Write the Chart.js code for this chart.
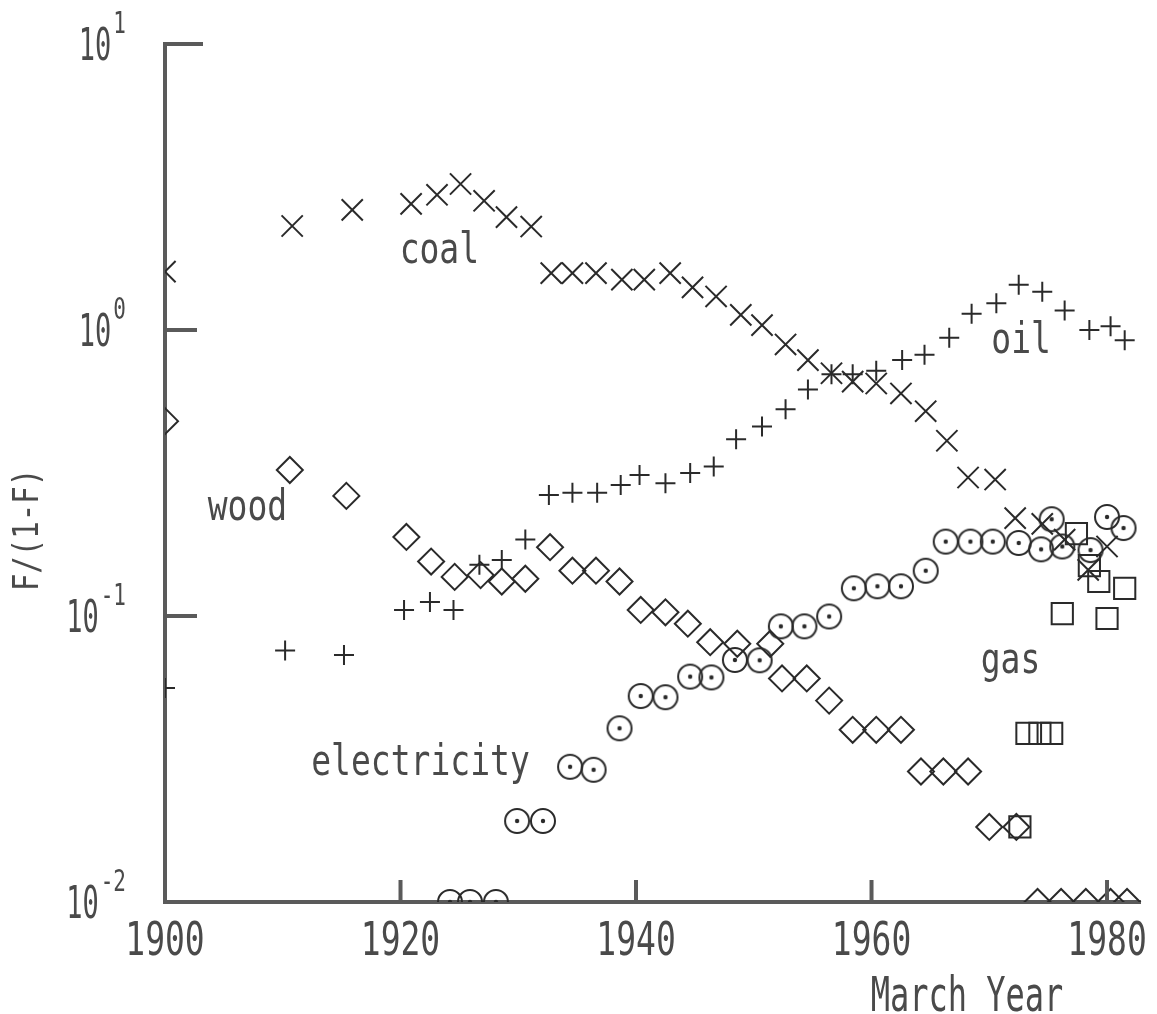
<!DOCTYPE html>
<html>
<head>
<meta charset="utf-8">
<script src="https://cdn.jsdelivr.net/npm/chart.js@4.4.1/dist/chart.umd.min.js"></script>
<style>
  html, body { margin: 0; padding: 0; background: #fff; }
</style>
</head>
<body>
<canvas id="myChart" width="1157" height="1014"></canvas>
<script>
"use strict";

// values (F/(1-F) of each fuel, log scale)
const coalYears = [1900, 1910.8, 1915.9, 1920.9, 1923.1, 1925.1, 1927.1, 1929.0, 1931.1, 1932.8, 1934.6, 1936.6, 1938.8, 1940.7, 1942.9, 1944.8, 1946.8, 1948.9, 1950.7, 1952.7, 1954.6, 1956.6, 1958.4, 1960.4, 1962.5, 1964.6, 1966.4, 1968.2, 1970.5, 1972.2, 1974.5, 1976.4, 1978.4, 1980.0];
const coalValues = [1.60, 2.31, 2.63, 2.76, 2.97, 3.24, 2.83, 2.48, 2.30, 1.58, 1.58, 1.58, 1.50, 1.50, 1.58, 1.41, 1.31, 1.13, 1.04, 0.89, 0.785, 0.706, 0.66, 0.65, 0.60, 0.52, 0.41, 0.305, 0.30, 0.22, 0.21, 0.185, 0.145, 0.175];

const oilYears = [1900, 1910.2, 1915.2, 1920.3, 1922.5, 1924.5, 1926.7, 1928.6, 1930.6, 1932.6, 1934.6, 1936.7, 1938.7, 1940.3, 1942.5, 1944.6, 1946.6, 1948.5, 1950.7, 1952.7, 1954.6, 1956.6, 1958.4, 1960.4, 1962.6, 1964.5, 1966.6, 1968.5, 1970.6, 1972.5, 1974.5, 1976.4, 1978.5, 1980.3, 1981.5];
const oilValues = [0.056, 0.0757, 0.073, 0.105, 0.112, 0.105, 0.151, 0.157, 0.185, 0.265, 0.27, 0.27, 0.287, 0.311, 0.291, 0.316, 0.333, 0.415, 0.46, 0.528, 0.62, 0.70, 0.70, 0.72, 0.785, 0.82, 0.94, 1.14, 1.24, 1.44, 1.36, 1.17, 1.00, 1.03, 0.92];

const woodYears = [1900, 1910.6, 1915.4, 1920.5, 1922.6, 1924.6, 1926.8, 1928.6, 1930.6, 1932.7, 1934.6, 1936.6, 1938.6, 1940.4, 1942.5, 1944.4, 1946.3, 1948.6, 1951.4, 1952.4, 1954.5, 1956.4, 1958.4, 1960.4, 1962.5, 1964.2, 1966.1, 1968.2, 1970.0, 1972.3, 1974.1, 1976.1, 1978.2, 1980.3, 1981.7];
const woodValues = [0.48, 0.324, 0.263, 0.189, 0.155, 0.137, 0.139, 0.132, 0.135, 0.174, 0.144, 0.144, 0.132, 0.105, 0.103, 0.094, 0.081, 0.080, 0.080, 0.0605, 0.0605, 0.0506, 0.040, 0.040, 0.040, 0.0286, 0.0286, 0.0286, 0.0183, 0.0183, 0.010, 0.010, 0.010, 0.010, 0.010];

const elecYears = [1924.2, 1925.9, 1928.1, 1929.9, 1932.1, 1934.4, 1936.4, 1938.6, 1940.4, 1942.5, 1944.6, 1946.4, 1948.4, 1950.5, 1952.3, 1954.3, 1956.4, 1958.5, 1960.5, 1962.5, 1964.6, 1966.3, 1968.4, 1970.3, 1972.5, 1974.4, 1975.3, 1976.2, 1978.6, 1980.0, 1981.4];
const elecValues = [0.010, 0.010, 0.010, 0.0192, 0.0192, 0.0297, 0.029, 0.0405, 0.0525, 0.052, 0.0614, 0.061, 0.0702, 0.070, 0.092, 0.092, 0.0996, 0.125, 0.127, 0.127, 0.144, 0.182, 0.182, 0.182, 0.180, 0.171, 0.218, 0.175, 0.170, 0.222, 0.203];

const gasYears = [1972.6, 1973.2, 1974.3, 1975.3, 1976.2, 1977.4, 1978.5, 1979.3, 1980.0, 1981.5];
const gasValues = [0.0183, 0.0389, 0.0389, 0.0389, 0.102, 0.194, 0.150, 0.132, 0.098, 0.125];

const xTickValues = [1900, 1920, 1940, 1960, 1980];
const xTickLabels = ["1900", "1920", "1940", "1960", "1980"];
const yTickValues = [0.01, 0.1, 1, 10];
const yTickExponents = ["-2", "-1", "0", "1"];

const seriesNames = ["coal", "oil", "wood", "electricity", "gas"];
// where each name sits, in data units (centre x, baseline y)
const nameAnchors = [[1923.3, 1.71], [1972.7, 0.831], [1907.0, 0.217], [1921.7, 0.0278], [1971.8, 0.0632]];

const ink = "#2a2a2a";
const textInk = "#4a4a4a";
const axisInk = "#5a5a5a";
const plotFont = '"DejaVu Sans Mono", "Liberation Mono", monospace';

function pairUp(xs, ys) {
  return xs.map((x, i) => ({ x: x, y: ys[i] }));
}

// circle with a dot in the middle, used for electricity
function ringDot(r) {
  const c = document.createElement("canvas");
  const s = 2 * r + 4;
  c.width = s;
  c.height = s;
  const g = c.getContext("2d");
  g.strokeStyle = ink;
  g.lineWidth = 2;
  g.beginPath();
  g.arc(s / 2, s / 2, r, 0, Math.PI * 2);
  g.stroke();
  g.fillStyle = ink;
  g.beginPath();
  g.arc(s / 2, s / 2, 2.2, 0, Math.PI * 2);
  g.fill();
  return c;
}

// tall narrow lettering like the plotter font of the original
function plotText(ctx, str, x, y, size, stretch, align) {
  ctx.save();
  ctx.translate(x, y);
  ctx.scale(1, stretch);
  ctx.font = size + "px " + plotFont;
  ctx.textAlign = align;
  ctx.textBaseline = "alphabetic";
  ctx.fillText(str, 0, 0);
  ctx.restore();
}

// markers on the frame are cut by it, as in the original
const frameClip = {
  id: "frameClip",
  beforeDatasetsDraw(chart) {
    const a = chart.chartArea;
    const top = a.top - 20;
    chart.ctx.save();
    chart.ctx.beginPath();
    chart.ctx.rect(a.left, top, a.right - a.left + 20, a.bottom - top);
    chart.ctx.clip();
  },
  afterDatasetsDraw(chart) {
    chart.ctx.restore();
  },
};

const decor = {
  id: "decor",
  afterDraw(chart) {
    const ctx = chart.ctx;
    const a = chart.chartArea;
    const xs = chart.scales.x;
    const ys = chart.scales.y;
    ctx.save();

    // inward tick marks
    ctx.strokeStyle = axisInk;
    ctx.lineWidth = 4;
    yTickValues.forEach((v) => {
      if (v === 0.01) return;
      const py = ys.getPixelForValue(v);
      ctx.beginPath();
      ctx.moveTo(a.left, py);
      ctx.lineTo(a.left + (v === 10 ? 38 : 32), py);
      ctx.stroke();
    });
    xTickValues.forEach((v) => {
      if (v === 1900) return;
      const px = xs.getPixelForValue(v);
      ctx.beginPath();
      ctx.moveTo(px, a.bottom);
      ctx.lineTo(px, a.bottom - 22);
      ctx.stroke();
    });

    ctx.fillStyle = textInk;

    // x tick labels
    xTickValues.forEach((v, i) => {
      plotText(ctx, xTickLabels[i], xs.getPixelForValue(v), 955, 33, 1.42, "center");
    });

    // y tick labels: 10 with a raised exponent
    yTickValues.forEach((v, i) => {
      const py = ys.getPixelForValue(v);
      const right = 126;
      ctx.font = "21px " + plotFont;
      const ew = ctx.measureText(yTickExponents[i]).width;
      plotText(ctx, yTickExponents[i], right, py - 11, 21, 1.45, "right");
      plotText(ctx, "10", right - ew - 2, py + 16, 27, 1.65, "right");
    });

    // axis titles
    plotText(ctx, "March Year", 967, 1011, 32, 1.5, "center");
    ctx.save();
    ctx.translate(38, 530);
    ctx.rotate(-Math.PI / 2);
    plotText(ctx, "F/(1-F)", 0, 0, 29, 1.2, "center");
    ctx.restore();

    // series names
    seriesNames.forEach((name, i) => {
      const px = xs.getPixelForValue(nameAnchors[i][0]);
      const py = ys.getPixelForValue(nameAnchors[i][1]);
      plotText(ctx, name, px, py, 33, 1.28, "center");
    });

    ctx.restore();
  },
};

const hollow = "rgba(0,0,0,0)";

function series(label, xs, ys, style, radius) {
  return {
    label: label,
    data: pairUp(xs, ys),
    showLine: false,
    pointStyle: style,
    pointRadius: radius,
    pointBorderWidth: 2,
    pointBorderColor: ink,
    pointBackgroundColor: hollow,
    clip: false,
  };
}

const myChart = new Chart("myChart", {
  type: "scatter",
  data: {
    datasets: [
      series("coal", coalYears, coalValues, "crossRot", 15),
      series("oil", oilYears, oilValues, "cross", 10),
      series("wood", woodYears, woodValues, "rectRot", 13),
      series("electricity", elecYears, elecValues, ringDot(12), 12),
      series("gas", gasYears, gasValues, "rect", 15),
    ],
  },
  options: {
    responsive: false,
    animation: false,
    events: [],
    layout: { padding: { top: 44, right: 12, left: 0, bottom: 0 } },
    plugins: {
      legend: { display: false },
      tooltip: { enabled: false },
    },
    scales: {
      x: {
        type: "linear",
        min: 1900,
        max: 1982.8,
        grid: { display: false },
        ticks: { display: false },
        border: { display: true, width: 4, color: axisInk },
        afterFit(scale) {
          scale.height = 112;
        },
      },
      y: {
        type: "logarithmic",
        min: 0.01,
        max: 10,
        grid: { display: false },
        ticks: { display: false },
        border: { display: true, width: 4, color: axisInk },
        afterFit(scale) {
          scale.width = 165;
        },
      },
    },
  },
  plugins: [frameClip, decor],
});
</script>
</body>
</html>
